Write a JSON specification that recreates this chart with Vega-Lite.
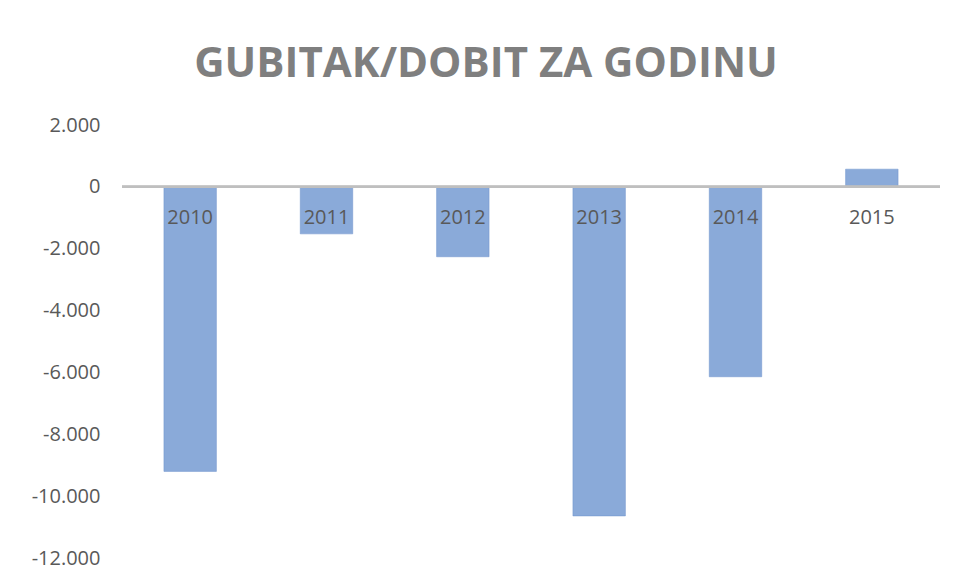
{
  "$schema": "https://vega.github.io/schema/vega-lite/v6.json",
  "width": 818,
  "height": 433,
  "autosize": {"type": "none"},
  "padding": {"left": 122, "top": 125, "right": 17, "bottom": 25},
  "background": "white",
  "config": {"view": {"stroke": null}, "font": "Open Sans"},
  "title": {
    "text": "GUBITAK/DOBIT ZA GODINU",
    "font": "Open Sans",
    "fontSize": 42,
    "fontWeight": "bold",
    "color": "#7f7f7f",
    "anchor": "middle",
    "frame": "group",
    "baseline": "alphabetic",
    "offset": -4,
    "dx": -45
  },
  "data": {
    "values": [
      {"year": "2010", "value": -9200},
      {"year": "2011", "value": -1520},
      {"year": "2012", "value": -2260},
      {"year": "2013", "value": -10640},
      {"year": "2014", "value": -6140},
      {"year": "2015", "value": 572}
    ]
  },
  "encoding": {
    "x": {
      "field": "year",
      "type": "nominal",
      "sort": null,
      "scale": {"paddingInner": 0.615, "paddingOuter": 0.3075},
      "axis": null
    }
  },
  "layer": [
    {
      "mark": {"type": "bar", "fill": "#8aaad9", "stroke": "#6f93cc", "strokeWidth": 0.5},
      "encoding": {
        "y": {
          "field": "value",
          "type": "quantitative",
          "scale": {"domain": [-12000, 2000], "nice": false, "zero": false},
          "axis": {
            "values": [-12000, -10000, -8000, -6000, -4000, -2000, 0, 2000],
            "domain": false,
            "ticks": false,
            "grid": false,
            "labelPadding": 22,
            "labelFont": "Open Sans",
            "labelFontSize": 20,
            "labelColor": "#595959",
            "labelExpr": "(datum.value < 0 ? '-' : '') + replace(format(abs(datum.value), ','), ',', '.')",
            "title": null
          }
        }
      }
    },
    {
      "mark": {"type": "rule", "color": "#bfbfbf", "strokeWidth": 2},
      "encoding": {"x": null, "y": {"datum": 0, "type": "quantitative"}}
    },
    {
      "mark": {"type": "text", "font": "Open Sans", "fontSize": 20, "color": "#595959", "baseline": "middle", "dy": 31},
      "encoding": {
        "y": {"datum": 0, "type": "quantitative"},
        "text": {"field": "year"}
      }
    }
  ]
}
